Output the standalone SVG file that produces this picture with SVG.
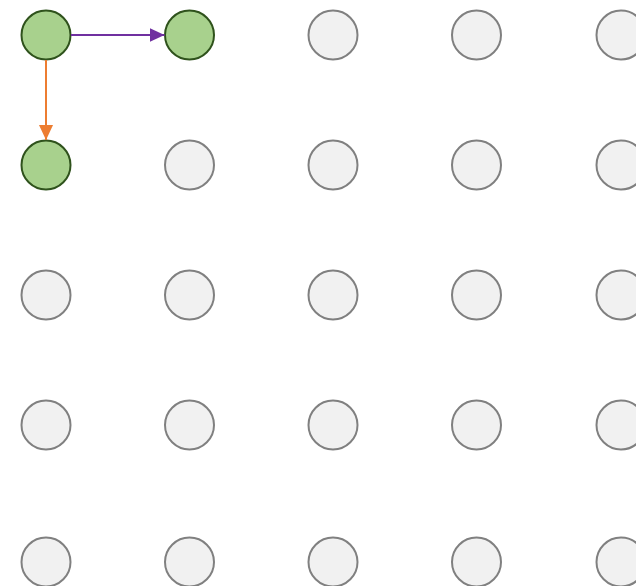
<svg xmlns="http://www.w3.org/2000/svg" width="636" height="586" viewBox="0 0 636 586">
<style>
.n{fill:#f1f1f1;stroke:#808080;stroke-width:2}
.g{fill:#a8d18d;stroke:#2f521c;stroke-width:2}
</style>
<defs>
<marker id="ap" viewBox="0 0 10 10" refX="10" refY="5" markerUnits="userSpaceOnUse" markerWidth="15" markerHeight="15" orient="auto"><path d="M0,0.3 L10,5 L0,9.7 Z" fill="#7030a0"/></marker>
<marker id="ao" viewBox="0 0 10 10" refX="10" refY="5" markerUnits="userSpaceOnUse" markerWidth="15" markerHeight="15" orient="auto"><path d="M0,0.3 L10,5 L0,9.7 Z" fill="#ed7d31"/></marker>
</defs>
<rect width="636" height="586" fill="#ffffff"/>
<g id="r1c1"><circle class="g" cx="46" cy="35" r="24.5"/></g>
<g id="r1c2"><circle class="g" cx="189.5" cy="35" r="24.5"/></g>
<g id="r1c3"><circle class="n" cx="333" cy="35" r="24.5"/></g>
<g id="r1c4"><circle class="n" cx="476.5" cy="35" r="24.5"/></g>
<g id="r1c5"><circle class="n" cx="621" cy="35" r="24.5"/></g>
<g id="r2c1"><circle class="g" cx="46" cy="165" r="24.5"/></g>
<g id="r2c2"><circle class="n" cx="189.5" cy="165" r="24.5"/></g>
<g id="r2c3"><circle class="n" cx="333" cy="165" r="24.5"/></g>
<g id="r2c4"><circle class="n" cx="476.5" cy="165" r="24.5"/></g>
<g id="r2c5"><circle class="n" cx="621" cy="165" r="24.5"/></g>
<g id="r3c1"><circle class="n" cx="46" cy="295" r="24.5"/></g>
<g id="r3c2"><circle class="n" cx="189.5" cy="295" r="24.5"/></g>
<g id="r3c3"><circle class="n" cx="333" cy="295" r="24.5"/></g>
<g id="r3c4"><circle class="n" cx="476.5" cy="295" r="24.5"/></g>
<g id="r3c5"><circle class="n" cx="621" cy="295" r="24.5"/></g>
<g id="r4c1"><circle class="n" cx="46" cy="425" r="24.5"/></g>
<g id="r4c2"><circle class="n" cx="189.5" cy="425" r="24.5"/></g>
<g id="r4c3"><circle class="n" cx="333" cy="425" r="24.5"/></g>
<g id="r4c4"><circle class="n" cx="476.5" cy="425" r="24.5"/></g>
<g id="r4c5"><circle class="n" cx="621" cy="425" r="24.5"/></g>
<g id="r5c1"><circle class="n" cx="46" cy="562" r="24.5"/></g>
<g id="r5c2"><circle class="n" cx="189.5" cy="562" r="24.5"/></g>
<g id="r5c3"><circle class="n" cx="333" cy="562" r="24.5"/></g>
<g id="r5c4"><circle class="n" cx="476.5" cy="562" r="24.5"/></g>
<g id="r5c5"><circle class="n" cx="621" cy="562" r="24.5"/></g>
<g id="connectors">
<line x1="71" y1="35" x2="164.5" y2="35" stroke="#7030a0" stroke-width="2" marker-end="url(#ap)"/>
<line x1="46" y1="60" x2="46" y2="140" stroke="#ed7d31" stroke-width="2" marker-end="url(#ao)"/>
</g>
</svg>
